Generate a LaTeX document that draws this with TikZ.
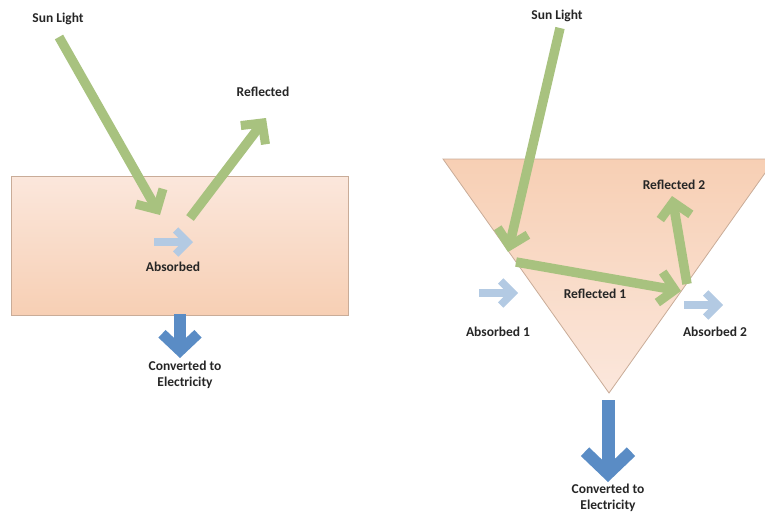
\documentclass[tikz,border=0pt]{standalone}
\usepackage{fontspec}
\setmainfont{Carlito}
\usetikzlibrary{arrows.meta}
\definecolor{beamgreen}{HTML}{A8C27F}
\definecolor{absblue}{HTML}{B3CAE3}
\definecolor{powblue}{HTML}{5A8CC5}
\definecolor{slabtop}{HTML}{FBE7DC}
\definecolor{slabbot}{HTML}{F7CFB4}
\definecolor{slabline}{HTML}{C9AC98}
\definecolor{labtext}{HTML}{262626}
\tikzset{
	beam/.style={draw=beamgreen, line width=9.5pt, line join=miter,
		-{Straight Barb[length=15pt, width=31pt, line width=9pt, line cap=butt, line join=miter]}},
	absorb/.style={draw=absblue, line width=8pt, line join=miter,
		-{Straight Barb[length=12pt, width=24pt, line width=7.5pt, line cap=butt, line join=miter]}},
	power/.style={draw=powblue, line width=11.5pt, line join=miter,
		-{Straight Barb[length=17pt, width=36pt, line width=10.5pt, line cap=butt, line join=miter]}},
	bigpower/.style={draw=powblue, line width=13pt, line join=miter,
		-{Straight Barb[length=22pt, width=46pt, line width=12pt, line cap=butt, line join=miter]}},
	lab/.style={text=labtext, font=\bfseries\fontsize{13.5}{15.5}\selectfont, inner sep=0pt}
}

\begin{document}
\begin{tikzpicture}[x=1pt, y=-1pt]
		%%%%% START %%%%%
		\useasboundingbox (0,0) rectangle (765,512);
		\clip (0,0) rectangle (765,512);
		
		% flat panel
		\shade[top color=slabtop, bottom color=slabbot] (11,176) rectangle (348,315);
		\draw[slabline, line width=0.8pt] (11,176) rectangle (348,315);
		
		\coordinate (sunA) at (59,37);
		\coordinate (hitA) at (160,215);
		\coordinate (outA) at (190,218);
		\coordinate (refA) at (266,118);
		\coordinate (absAs) at (154,242);
		\coordinate (absAe) at (193,242);
		\coordinate (powAs) at (180,314);
		\coordinate (powAe) at (180,358);
		
		\draw[beam] (sunA) -- (hitA);
		\draw[beam] (outA) -- (refA);
		\draw[absorb] (absAs) -- (absAe);
		\draw[power] (powAs) -- (powAe);
		
		\node[lab] (sunlabA) at (58,19) {Sun Light};
		\node[lab] (reflabA) at (263,92) {Reflected};
		\node[lab] (abslabA) at (173,267) {Absorbed};
		\node[lab, align=center] (powlabA) at (185,375) {Converted to\\Electricity};
		
		% V shaped panel
		\shade[top color=slabbot, bottom color=slabtop] (443,159) -- (775,159) -- (609,393) -- cycle;
		\draw[slabline, line width=0.8pt] (443,159) -- (775,159) -- (609,393) -- cycle;
		
		\coordinate (sunB) at (560,28);
		\coordinate (hitB) at (508,252);
		\coordinate (outB) at (516,262);
		\coordinate (hitC) at (681,291);
		\coordinate (outC) at (687,284);
		\coordinate (refC) at (672,196);
		\coordinate (absBs) at (479,293);
		\coordinate (absBe) at (518,293);
		\coordinate (absCs) at (684,305);
		\coordinate (absCe) at (723,305);
		\coordinate (powBs) at (608,400);
		\coordinate (powBe) at (608,482);
		
		\draw[beam] (sunB) -- (hitB);
		\draw[beam] (outB) -- (hitC);
		\draw[beam] (outC) -- (refC);
		\draw[absorb] (absBs) -- (absBe);
		\draw[absorb] (absCs) -- (absCe);
		\draw[bigpower] (powBs) -- (powBe);
		
		\node[lab] (sunlabB) at (557,16) {Sun Light};
		\node[lab] (reflabB) at (595,294) {Reflected 1};
		\node[lab] (reflabC) at (674,185) {Reflected 2};
		\node[lab] (abslabB) at (498,332) {Absorbed 1};
		\node[lab] (abslabC) at (715,332) {Absorbed 2};
		\node[lab, align=center] (powlabB) at (608,498) {Converted to\\Electricity};
		%%%%% END %%%%%
	\end{tikzpicture}
\end{document}
